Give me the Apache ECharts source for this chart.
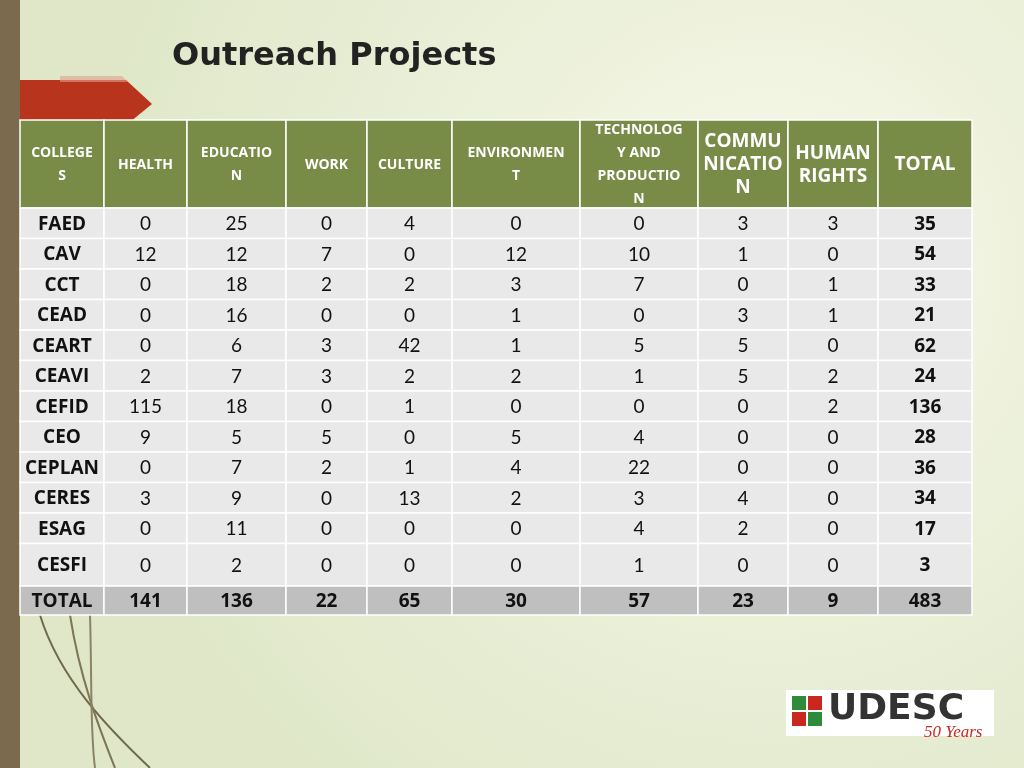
<!DOCTYPE html>
<html><head><meta charset="utf-8">
<script src="https://cdn.jsdelivr.net/npm/echarts@6/dist/echarts.min.js"></script>
<style>html,body{margin:0;padding:0}#main{width:1024px;height:768px}</style>
</head><body><div id="main"></div>
<script>
// table content
var headers = ['COLLEGE\nS', 'HEALTH', 'EDUCATIO\nN', 'WORK', 'CULTURE', 'ENVIRONMEN\nT', 'TECHNOLOG\nY AND\nPRODUCTIO\nN', 'COMMU\nNICATIO\nN', 'HUMAN\nRIGHTS', 'TOTAL'];
var colleges = ['FAED', 'CAV', 'CCT', 'CEAD', 'CEART', 'CEAVI', 'CEFID', 'CEO', 'CEPLAN', 'CERES', 'ESAG', 'CESFI', 'TOTAL'];
var health = [0, 12, 0, 0, 0, 2, 115, 9, 0, 3, 0, 0, 141];
var education = [25, 12, 18, 16, 6, 7, 18, 5, 7, 9, 11, 2, 136];
var work = [0, 7, 2, 0, 3, 3, 0, 5, 2, 0, 0, 0, 22];
var culture = [4, 0, 2, 0, 42, 2, 1, 0, 1, 13, 0, 0, 65];
var environment = [0, 12, 3, 1, 1, 2, 0, 5, 4, 2, 0, 0, 30];
var technology = [0, 10, 7, 0, 5, 1, 0, 4, 22, 3, 4, 1, 57];
var communication = [3, 1, 0, 3, 5, 5, 0, 0, 0, 4, 2, 0, 23];
var humanRights = [3, 0, 1, 1, 0, 2, 2, 0, 0, 0, 0, 0, 9];
var totals = [35, 54, 33, 21, 62, 24, 136, 28, 36, 34, 17, 3, 483];

// layout (pixel units of the table)
var colEdges = [0, 84, 167, 266, 347, 432, 560, 678, 768, 858, 952];
var rowEdges = [0, 88, 118.5, 149, 179.5, 210, 240.5, 271, 301.5, 332, 362.5, 393, 423.5, 466, 495];

var columns = [colleges, health, education, work, culture, environment, technology, communication, humanRights, totals];
var cells = [];
headers.forEach(function (h, c) { cells.push([c, 0, h]); });
colleges.forEach(function (name, r) {
  columns.forEach(function (col, c) { cells.push([c, r + 1, String(col[r])]); });
});

var chart = echarts.init(document.getElementById('main'));
chart.setOption({
  backgroundColor: new echarts.graphic.RadialGradient(0.75, 0.35, 0.9, [
    { offset: 0, color: '#f7f9ea' }, { offset: 1, color: '#dfe7c8' }]),
  graphic: [
    { type: 'rect', shape: { x: 0, y: 0, width: 20, height: 768 }, style: { fill: '#7b6a4d' } },
    { type: 'polygon', shape: { points: [[20, 80], [126, 80], [152, 104], [130, 122], [20, 122]] }, style: { fill: '#b9341c' } },
    { type: 'polygon', shape: { points: [[60, 76], [122, 76], [128, 82], [60, 82]] }, style: { fill: '#e0a090', opacity: 0.6 } },
    { type: 'text', left: 172, top: 41, style: { text: 'Outreach Projects', font: 'bold 32px "DejaVu Sans", sans-serif', fill: '#222' } },
    { type: 'bezierCurve', shape: { x1: 40, y1: 615, x2: 150, y2: 768, cpx1: 60, cpy1: 680, cpx2: 110, cpy2: 730 }, style: { stroke: '#6f6a4a', lineWidth: 2, fill: null } },
    { type: 'bezierCurve', shape: { x1: 70, y1: 615, x2: 115, y2: 768, cpx1: 80, cpy1: 680, cpx2: 100, cpy2: 730 }, style: { stroke: '#7d7655', lineWidth: 2, fill: null } },
    { type: 'bezierCurve', shape: { x1: 90, y1: 615, x2: 95, y2: 768, cpx1: 92, cpy1: 680, cpx2: 90, cpy2: 730 }, style: { stroke: '#8a8464', lineWidth: 2, fill: null } },
    { type: 'rect', shape: { x: 786, y: 690, width: 208, height: 46 }, style: { fill: '#ffffff' } },
    { type: 'rect', shape: { x: 792, y: 696, width: 14, height: 14 }, style: { fill: '#2e8b3a' } },
    { type: 'rect', shape: { x: 808, y: 696, width: 14, height: 14 }, style: { fill: '#c8281e' } },
    { type: 'rect', shape: { x: 792, y: 712, width: 14, height: 14 }, style: { fill: '#c8281e' } },
    { type: 'rect', shape: { x: 808, y: 712, width: 14, height: 14 }, style: { fill: '#2e8b3a' } },
    { type: 'text', left: 828, top: 692, style: { text: 'UDESC', font: 'bold 36px "DejaVu Sans", sans-serif', fill: '#333' } },
    { type: 'text', left: 924, top: 724, style: { text: '50 Years', font: 'italic 17px "Liberation Serif", serif', fill: '#c8281e' } }
  ],
  grid: { left: 20, top: 120, width: 952, height: 495 },
  xAxis: { type: 'value', min: 0, max: 952, show: false },
  yAxis: { type: 'value', min: 0, max: 495, inverse: true, show: false },
  series: [{
    type: 'custom',
    data: cells,
    renderItem: function (params, api) {
      var c = api.value(0), r = api.value(1), text = cells[params.dataIndex][2];
      var p0 = api.coord([colEdges[c], rowEdges[r]]);
      var p1 = api.coord([colEdges[c + 1], rowEdges[r + 1]]);
      var isHead = r === 0, isTotal = r === rowEdges.length - 2;
      var fill = isHead ? '#788b47' : (isTotal ? '#bfbfbf' : '#e9e9e9');
      var font;
      if (isHead) font = (c === 7 || c === 8 || c === 9) ? 'bold 19px "Open Sans", sans-serif' : 'bold 14px "Open Sans", sans-serif';
      else if (c === 0 || c === 9 || isTotal) font = 'bold 19px "Open Sans", sans-serif';
      else font = '19px "Lato", sans-serif';
      return {
        type: 'group',
        children: [
          { type: 'rect', shape: { x: p0[0], y: p0[1], width: p1[0] - p0[0], height: p1[1] - p0[1] },
            style: { fill: fill, stroke: '#ffffff', lineWidth: 1.5 } },
          { type: 'text', style: { text: text, x: (p0[0] + p1[0]) / 2, y: (p0[1] + p1[1]) / 2 + 1,
            align: 'center', verticalAlign: 'middle', font: font, lineHeight: isHead ? 23 : 20,
            fill: isHead ? '#ffffff' : '#111' } }
        ]
      };
    }
  }]
});
</script></body></html>
